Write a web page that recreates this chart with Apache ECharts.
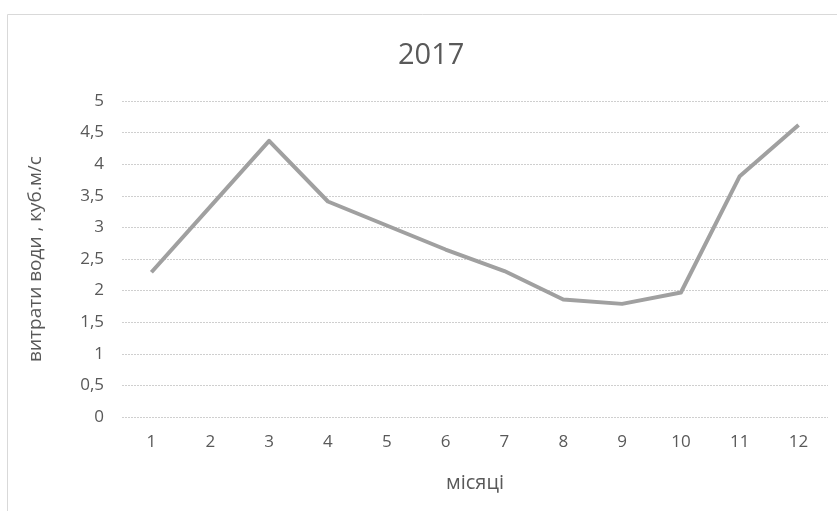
<!DOCTYPE html>
<html><head><meta charset="utf-8">
<script src="https://cdn.jsdelivr.net/npm/echarts@6/dist/echarts.min.js"></script>
<style>html,body{margin:0;padding:0;background:#fff}#c{width:837px;height:511px}</style>
</head><body><div id="c"></div>
<script>
const titleText = '2017';
const months = ['1','2','3','4','5','6','7','8','9','10','11','12'];
const waterFlow = [2.29, 3.33, 4.37, 3.41, 3.03, 2.65, 2.31, 1.86, 1.79, 1.97, 3.81, 4.62];
const xName = 'місяці';
const yName = 'витрати води , куб.м/с';
const font = 'Open Sans';
const chart = echarts.init(document.getElementById('c'));
chart.setOption({
  animation: false,
  title: { text: titleText, left: 393, top: 36, textStyle: { fontFamily: font, fontSize: 29, fontWeight: 'normal', color: '#595959' } },
  graphic: [{ type: 'rect', shape: { x: 7.5, y: 14.5, width: 840, height: 510 }, style: { fill: 'none', stroke: '#d9d9d9', lineWidth: 1 }, silent: true }],
  grid: { left: 122, right: 9, top: 101, bottom: 94 },
  xAxis: {
    type: 'category', data: months, boundaryGap: true,
    name: xName, nameLocation: 'middle', nameGap: 56,
    nameTextStyle: { fontFamily: font, fontSize: 20, color: '#595959' },
    axisLine: { show: false }, axisTick: { show: false },
    axisLabel: { margin: 17, fontFamily: font, fontSize: 17, color: '#595959' }
  },
  yAxis: {
    type: 'value', min: 0, max: 5, interval: 0.5,
    name: yName, nameLocation: 'middle', nameGap: 77,
    nameTextStyle: { fontFamily: font, fontSize: 19, color: '#595959' },
    axisLine: { show: false }, axisTick: { show: false },
    axisLabel: { margin: 18, fontFamily: font, fontSize: 17, color: '#595959', formatter: v => String(v).replace('.', ',') },
    splitLine: { lineStyle: { color: '#cfcfcf', type: [2, 1], width: 1 } }
  },
  series: [{ type: 'line', data: waterFlow, symbol: 'none', lineStyle: { color: '#a0a0a0', width: 4, join: 'round' } }]
});
</script></body></html>
